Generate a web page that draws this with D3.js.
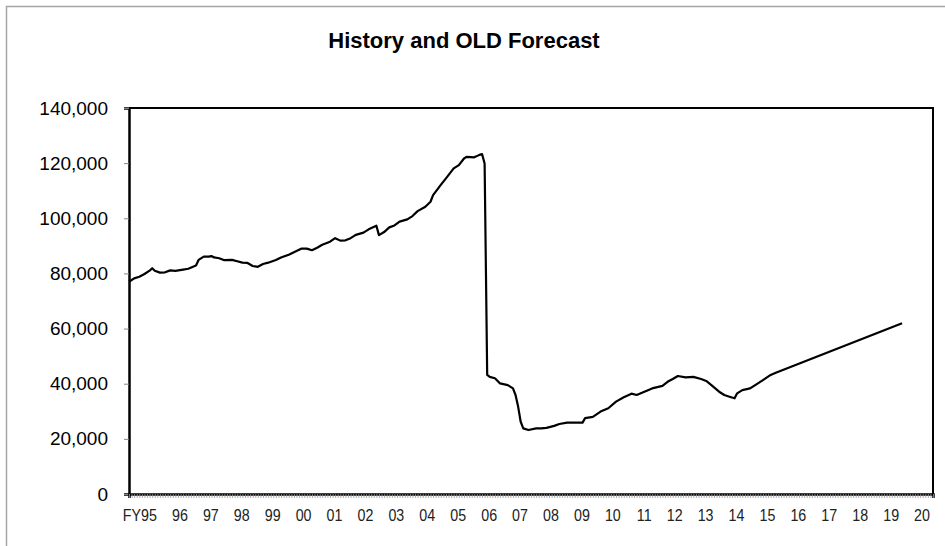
<!DOCTYPE html>
<html lang="en">
<head>
  <meta charset="UTF-8">
  <script src="https://d3js.org/d3.v7.min.js"></script>
  <title>History and OLD Forecast</title>
  <style>
    body { margin: 0; background: #fff; }
  </style>
</head>
<body>
  <script>
    // months counted from the start of FY95
    const histMonths = [0, 2, 4, 6, 8, 9, 10, 12, 14, 16, 18, 21, 23, 26, 27, 29, 31, 32, 33, 35,
      37, 40, 42, 44, 46, 48, 50, 52, 54, 57, 59, 62, 64, 67, 69, 71, 73, 75, 78, 80,
      82, 84, 86, 88, 91, 93, 96, 97, 99, 101, 103, 105, 108, 110, 112, 115, 117, 118, 121, 123,
      126, 128, 130, 131, 134, 136, 137, 138, 139, 140, 142, 144, 147, 149, 150, 151, 152, 153, 155, 158,
      160, 162, 165, 167, 170, 173, 176, 177, 180, 183, 186, 189, 192, 195, 197, 200, 203, 207, 209, 211,
      213, 216, 219, 222, 224, 226, 229, 231, 233, 235, 236, 238, 241, 243, 246, 249, 251]
    const histValues = [77000, 78200, 78800, 79800, 81000, 81900, 81000, 80300, 80400, 81100, 80900, 81400, 81700, 82900, 84900, 86100, 86100, 86300, 85800, 85500,
      84800, 84900, 84400, 83900, 83800, 82700, 82400, 83400, 83900, 84900, 85800, 86800, 87700, 89000, 89000, 88400, 89300, 90400, 91500, 92800,
      91900, 92000, 92800, 94000, 94800, 96000, 97300, 93900, 95000, 96700, 97400, 98800, 99600, 100800, 102600, 104200, 106000, 108400, 112100, 114500,
      118100, 119300, 121700, 122300, 122100, 123000, 123300, 119900, 43200, 42500, 42000, 40100, 39500, 38300, 35900, 31700, 26200, 23800, 23200, 23800,
      23800, 24000, 24700, 25400, 25900, 25900, 25900, 27500, 28000, 29900, 31100, 33500, 35100, 36400, 35900, 37100, 38300, 39200, 40700, 41700,
      42800, 42300, 42500, 41700, 41000, 39500, 37100, 35900, 35300, 34700, 36500, 37700, 38300, 39500, 41300, 43200, 44000]

    const forecastMonths = [251, 300]
    const forecastValues = [44000, 61900]

    const yearLabels = ["FY95", "96", "97", "98", "99", "00", "01", "02", "03", "04", "05", "06", "07",
      "08", "09", "10", "11", "12", "13", "14", "15", "16", "17", "18", "19", "20"]
    const yTicks = [0, 20000, 40000, 60000, 80000, 100000, 120000, 140000]

    const width = 945
    const height = 546
    const margin = { top: 108, right: 12, bottom: 52, left: 129 }
    const boundedWidth = width - margin.left - margin.right
    const boundedHeight = height - margin.top - margin.bottom

    const svg = d3.select("body")
      .append("svg")
      .attr("width", width)
      .attr("height", height)
      .style("display", "block")

    // outer chart frame
    svg.append("rect")
      .attr("x", 6.5)
      .attr("y", 6.5)
      .attr("width", width)
      .attr("height", height)
      .attr("fill", "none")
      .attr("stroke", "#a6a6a6")
      .attr("stroke-width", 1.5)

    svg.append("text")
      .attr("x", 464)
      .attr("y", 48)
      .attr("text-anchor", "middle")
      .style("font-family", "'Liberation Sans', Arial, sans-serif")
      .style("font-weight", "bold")
      .style("font-size", "22px")
      .text("History and OLD Forecast")

    const bounds = svg.append("g")
      .attr("transform", `translate(${margin.left}, ${margin.top})`)

    const xScale = d3.scaleLinear()
      .domain([0, yearLabels.length * 12])
      .range([0, boundedWidth])

    const yScale = d3.scaleLinear()
      .domain([0, 140000])
      .range([boundedHeight, 0])

    // plot area border (top + right)
    bounds.append("path")
      .attr("d", `M0,0H${boundedWidth}V${boundedHeight}`)
      .attr("fill", "none")
      .attr("stroke", "#000")
      .attr("stroke-width", 2)

    // y axis
    const yAxis = bounds.append("g")
      .call(d3.axisLeft(yScale)
        .tickValues(yTicks)
        .tickSize(5)
        .tickPadding(16)
        .tickFormat(d3.format(",")))
    yAxis.select(".domain").attr("stroke", "#000").attr("stroke-width", 2.5)
    yAxis.selectAll(".tick line").attr("stroke", "#888")
    yAxis.selectAll("text")
      .style("font-family", "'Liberation Sans', Arial, sans-serif")
      .style("font-size", "19px")
      .attr("fill", "#000")

    // x axis with monthly minor ticks
    const xAxis = bounds.append("g")
      .attr("transform", `translate(0, ${boundedHeight})`)
      .call(d3.axisBottom(xScale)
        .tickValues(d3.range(0, yearLabels.length * 12 + 1))
        .tickSize(4)
        .tickFormat(""))
    xAxis.select(".domain").attr("stroke", "#000").attr("stroke-width", 2.5)
    xAxis.selectAll(".tick line").attr("stroke", "#999").attr("stroke-width", 0.8)

    // year labels, squeezed horizontally to mimic the narrow axis font
    bounds.append("g")
      .selectAll("text")
      .data(yearLabels)
      .join("text")
      .attr("transform", (d, i) => `translate(${xScale((i + 1) * 12) - 3}, ${boundedHeight + 27}) scale(0.84, 1)`)
      .attr("text-anchor", "end")
      .attr("fill", "#222")
      .style("font-family", "'Liberation Sans', Arial, sans-serif")
      .style("font-size", "17px")
      .text(d => d)

    const points = histMonths.map((m, i) => [m, histValues[i]])
      .concat(forecastMonths.slice(1).map((m, i) => [m, forecastValues[i + 1]]))

    const lineGenerator = d3.line()
      .x(d => xScale(d[0]))
      .y(d => yScale(d[1]))

    bounds.append("path")
      .attr("d", lineGenerator(points))
      .attr("fill", "none")
      .attr("stroke", "#000")
      .attr("stroke-width", 2.2)
      .attr("stroke-linejoin", "round")
  </script>
</body>
</html>
